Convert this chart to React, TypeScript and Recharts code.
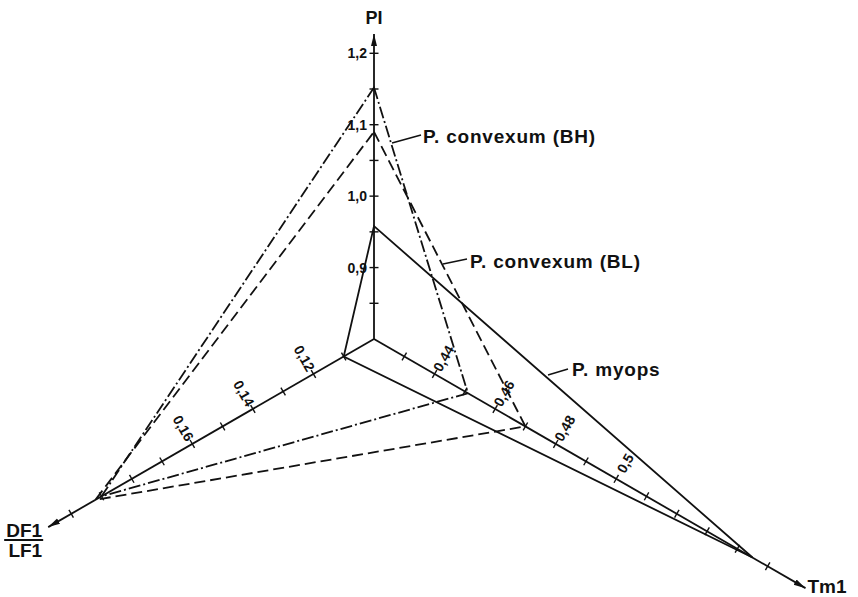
import React from 'react';
import { RadarChart, Radar, PolarAngleAxis, PolarRadiusAxis } from 'recharts';

// three axes, clockwise from the top: PI, Tm1, DF1/LF1
const axisNames = ['PI', 'Tm1', 'DF1/LF1'];
const axisAngles = [90, -30, -150];
// value at the shared origin and at the outer radius of each axis
const axisMin = [0.8, 0.42, 0.1];
const axisMax = [1.5, 0.563, 0.243];
// where each axis line stops (arrow tip)
const axisEnd = [1.227, 0.5625, 0.2076];

const piTicks = [0.85, 0.9, 0.95, 1.0, 1.05, 1.1, 1.15, 1.2];
const piLabels = [0.9, 1.0, 1.1, 1.2];
const tmTicks = [0.43, 0.44, 0.45, 0.46, 0.47, 0.48, 0.49, 0.5, 0.51, 0.52, 0.53, 0.54, 0.55];
const tmLabels = [0.44, 0.46, 0.48, 0.5];
const dfTicks = [0.11, 0.12, 0.13, 0.14, 0.15, 0.16, 0.17, 0.18, 0.19, 0.2];
const dfLabels = [0.12, 0.14, 0.16];

// PI, Tm1, DF1/LF1 per group
const bhValues = [1.152, 0.451, 0.19];
const blValues = [1.09, 0.47, 0.192];
const myopsValues = [0.958, 0.545, 0.11];

// every axis is mapped onto a shared 0..1 radius
const norm = (v: number, i: number) => (v - axisMin[i]) / (axisMax[i] - axisMin[i]);

const data = axisNames.map((name, i) => ({
  axis: name,
  frame: norm(axisEnd[i], i),
  myops: norm(myopsValues[i], i),
  bl: norm(blValues[i], i),
  bh: norm(bhValues[i], i),
}));

const INK = '#111';
const LINE = 1.8;
const FONT = "'Liberation Sans', Arial, sans-serif";
const tickFont = { fontFamily: FONT, fontWeight: 700, fontSize: 14 };
const titleFont = { fontFamily: FONT, fontWeight: 700, fontSize: 19 };
const nameFont = { fontFamily: FONT, fontWeight: 700, fontSize: 19, letterSpacing: 0.8 };

const makeTick = (axis: number, values: number[], labels: number[], fmt: (v: number) => string) => (props: any) => {
  const { x, y, payload } = props;
  const angle = axisAngles[axis];
  const a = (angle * Math.PI) / 180;
  const px = Math.sin(a);
  const py = Math.cos(a);
  // back from the shared radius to the axis' own value
  const raw = axisMin[axis] + payload.value * (axisMax[axis] - axisMin[axis]);
  const v = values.reduce((best, t) => (Math.abs(t - raw) < Math.abs(best - raw) ? t : best), values[0]);
  let label = null;
  if (labels.includes(v)) {
    if (angle === 90) {
      label = (
        <text x={x - 7} y={y} textAnchor="end" dominantBaseline="central" fill={INK} style={tickFont}>
          {fmt(v)}
        </text>
      );
    } else {
      // labels stand across the axis, on its upper side
      const side = angle === -30 ? -1 : 1;
      const lx = x + side * 18 * px;
      const ly = y + side * 18 * py;
      const rot = angle === -30 ? -60 : 60;
      label = (
        <text
          x={lx}
          y={ly}
          textAnchor="middle"
          dominantBaseline="central"
          transform={`rotate(${rot}, ${lx}, ${ly})`}
          fill={INK}
          style={tickFont}
        >
          {fmt(v)}
        </text>
      );
    }
  }
  return (
    <g>
      <line x1={x - 4.5 * px} y1={y - 4.5 * py} x2={x + 4.5 * px} y2={y + 4.5 * py} stroke={INK} strokeWidth={1.4} />
      {label}
    </g>
  );
};

const comma = (v: number) => String(v).replace('.', ',');

// axis lines with arrow heads and their titles
const AxisFrame = (props: any) => {
  const pts = props.points || [];
  if (pts.length < 3) return null;
  const [pi, tm, df] = pts;
  return (
    <g>
      <defs>
        <marker id="axisArrow" markerUnits="userSpaceOnUse" markerWidth={13} markerHeight={8} refX={12} refY={4} orient="auto">
          <path d="M0,1 L12,4 L0,7 Z" fill={INK} />
        </marker>
      </defs>
      {pts.map((p: any, i: number) => (
        <line key={i} x1={p.cx} y1={p.cy} x2={p.x} y2={p.y} stroke={INK} strokeWidth={LINE} markerEnd="url(#axisArrow)" />
      ))}
      <text x={pi.x} y={pi.y - 10} textAnchor="middle" fill={INK} style={{ ...titleFont, fontSize: 18 }}>
        PI
      </text>
      <text x={tm.x + 2} y={tm.y + 5} textAnchor="start" fill={INK} style={titleFont}>
        Tm1
      </text>
      <text x={df.x - 6} y={df.y + 10} textAnchor="end" fill={INK} style={titleFont}>
        DF1
      </text>
      <line x1={df.x - 44} y1={df.y + 13} x2={df.x - 5} y2={df.y + 13} stroke={INK} strokeWidth={2} />
      <text x={df.x - 6} y={df.y + 30} textAnchor="end" fill={INK} style={titleFont}>
        LF1
      </text>
    </g>
  );
};

const tickAxes = [
  { id: 'pi', values: piTicks, labels: piLabels, fmt: (v: number) => v.toFixed(1).replace('.', ',') },
  { id: 'tm', values: tmTicks, labels: tmLabels, fmt: comma },
  { id: 'df', values: dfTicks, labels: dfLabels, fmt: comma },
];

export default function App() {
  return (
    <div style={{ position: 'absolute', left: 0, top: 0, width: 858, height: 597, background: '#fff' }}>
      <RadarChart
        width={858}
        height={597}
        data={data}
        cx={374}
        cy={339}
        outerRadius={500}
        margin={{ top: 0, right: 0, bottom: 0, left: 0 }}
      >
        <PolarAngleAxis dataKey="axis" tick={false} tickLine={false} axisLine={false} />
        <PolarRadiusAxis radiusAxisId="norm" type="number" domain={[0, 1]} allowDataOverflow tick={false} axisLine={false} />
        {tickAxes.map((ax, i) => (
          <PolarRadiusAxis
            key={ax.id}
            radiusAxisId={ax.id}
            angle={axisAngles[i]}
            type="number"
            domain={[0, 1]}
            allowDataOverflow
            ticks={ax.values.map((v) => norm(v, i))}
            axisLine={false}
            tick={makeTick(i, ax.values, ax.labels, ax.fmt)}
          />
        ))}
        <Radar dataKey="frame" radiusAxisId="norm" shape={AxisFrame} isAnimationActive={false} />
        <Radar dataKey="myops" radiusAxisId="norm" stroke={INK} strokeWidth={LINE} fill="none" isAnimationActive={false} />
        <Radar dataKey="bl" radiusAxisId="norm" stroke={INK} strokeWidth={LINE} strokeDasharray="11 5" fill="none" isAnimationActive={false} />
        <Radar dataKey="bh" radiusAxisId="norm" stroke={INK} strokeWidth={LINE} strokeDasharray="12 3 2 3" fill="none" isAnimationActive={false} />
      </RadarChart>
      <svg width={858} height={597} style={{ position: 'absolute', left: 0, top: 0, pointerEvents: 'none' }}>
        <line x1={392} y1={143} x2={421} y2={135} stroke={INK} strokeWidth={1.5} />
        <text x={423} y={143} fill={INK} style={nameFont}>P. convexum (BH)</text>
        <line x1={443} y1={264} x2={467} y2={259} stroke={INK} strokeWidth={1.5} />
        <text x={470} y={268} fill={INK} style={nameFont}>P. convexum (BL)</text>
        <line x1={548} y1={375} x2={568} y2={369} stroke={INK} strokeWidth={1.5} />
        <text x={572} y={376} fill={INK} style={nameFont}>P. myops</text>
      </svg>
    </div>
  );
}
